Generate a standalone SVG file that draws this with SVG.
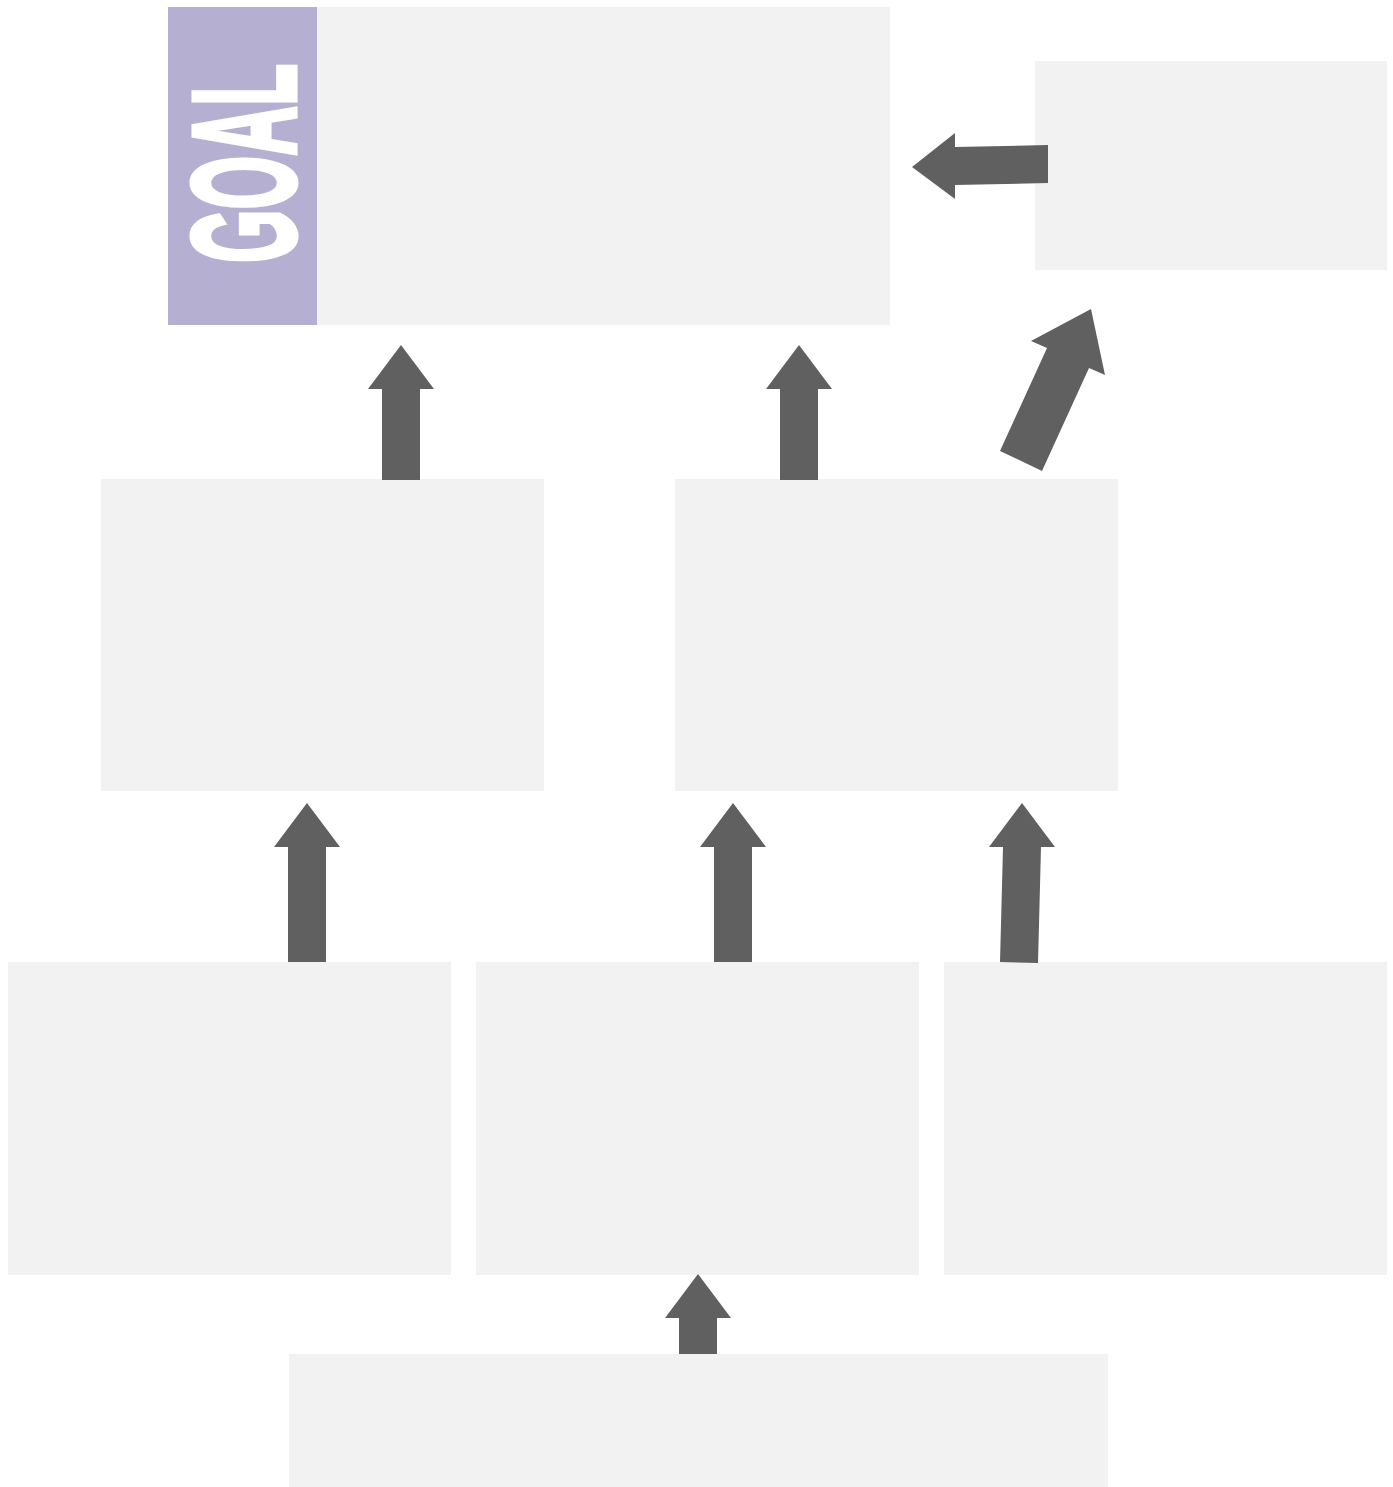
<svg xmlns="http://www.w3.org/2000/svg" width="1393" height="1487" viewBox="0 0 1393 1487">
<style>
.box{fill:#f2f2f2}
.arrow{fill:#606060}
.goal{fill:#ffffff;stroke:#ffffff;stroke-width:5;stroke-linejoin:miter;font-family:"Liberation Sans Narrow","Liberation Sans",sans-serif;font-weight:bold;font-size:147px}
</style>
<rect width="1393" height="1487" fill="#ffffff"/>
<g id="goal">
<rect class="box" x="317" y="7" width="573" height="318"/>
<rect x="168" y="7" width="149" height="318" fill="#b5b0d1"/>
<text class="goal" transform="translate(295,263) rotate(-90)" x="0" y="0" textLength="199" lengthAdjust="spacingAndGlyphs">GOAL</text>
</g>
<g id="top-right"><rect class="box" x="1035" y="61" width="352" height="209"/></g>
<g id="mid-left"><rect class="box" x="101" y="479" width="443" height="312"/></g>
<g id="mid-right"><rect class="box" x="675" y="479" width="443" height="312"/></g>
<g id="bottom-left"><rect class="box" x="8" y="962" width="443" height="313"/></g>
<g id="bottom-middle"><rect class="box" x="476" y="962" width="443" height="313"/></g>
<g id="bottom-right"><rect class="box" x="944" y="962" width="443" height="313"/></g>
<g id="base"><rect class="box" x="289" y="1354" width="819" height="133"/></g>
<g id="connectors">
<polygon class="arrow" points="1048,145 1048,183 955,185 955,199 912,167 955,133 955,147"/>
<polygon class="arrow" points="1091,309 1105,375 1089,368 1042,471 1000,451 1047,348 1031,341"/>
<polygon class="arrow" points="401,345 434,389 420,389 420,480 382,480 382,389 368,389"/>
<polygon class="arrow" points="799,345 832,389 818,389 818,480 780,480 780,389 766,389"/>
<polygon class="arrow" points="307,803 340,847 326,847 326,962 288,962 288,847 274,847"/>
<polygon class="arrow" points="733,803 766,847 752,847 752,962 714,962 714,847 700,847"/>
<polygon class="arrow" points="1022,803 1055,847 1041,847 1038,963 1000,962 1003,847 989,847"/>
<polygon class="arrow" points="698,1274 731,1318 717,1318 717,1354 679,1354 679,1318 665,1318"/>
</g>
</svg>
